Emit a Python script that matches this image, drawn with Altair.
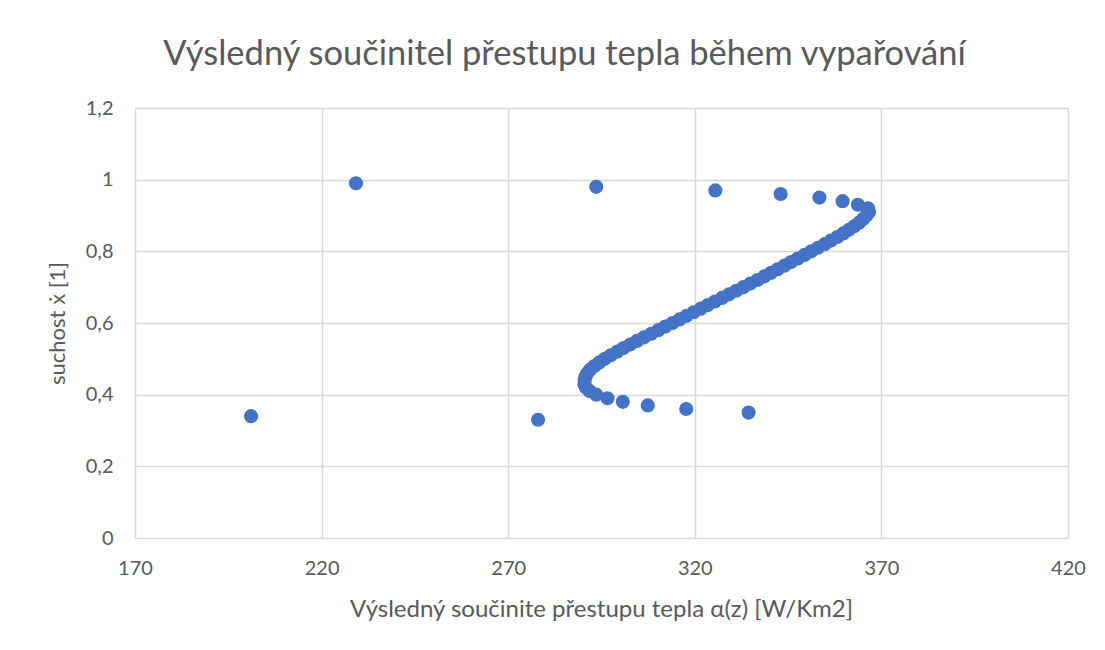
import altair as alt
import pandas as pd

# dryness (suchost x) values and the matching heat transfer coefficient readings
suchost = [0.33, 0.34, 0.35, 0.36, 0.37, 0.38, 0.39, 0.40, 0.41, 0.42,
           0.43, 0.44, 0.45, 0.46, 0.47, 0.48, 0.49, 0.50, 0.51, 0.52,
           0.53, 0.54, 0.55, 0.56, 0.57, 0.58, 0.59, 0.60, 0.61, 0.62,
           0.63, 0.64, 0.65, 0.66, 0.67, 0.68, 0.69, 0.70, 0.71, 0.72,
           0.73, 0.74, 0.75, 0.76, 0.77, 0.78, 0.79, 0.80, 0.81, 0.82,
           0.83, 0.84, 0.85, 0.86, 0.87, 0.88, 0.89, 0.90, 0.91, 0.92,
           0.93, 0.94, 0.95, 0.96, 0.97, 0.98, 0.99]
alpha = [278.0, 201.1, 334.4, 317.7, 307.4, 300.7, 296.6, 293.6, 291.8, 290.8,
         290.4, 290.5, 290.7, 291.2, 292.0, 293.1, 294.4, 295.9, 297.5, 299.2,
         300.9, 302.7, 304.5, 306.4, 308.3, 310.2, 312.1, 314.0, 315.9, 317.8,
         319.7, 321.6, 323.5, 325.4, 327.3, 329.2, 331.1, 333.0, 334.9, 336.8,
         338.6, 340.4, 342.2, 344.0, 345.8, 347.6, 349.4, 351.2, 353.0, 354.8,
         356.5, 358.2, 359.8, 361.3, 362.7, 364.0, 365.1, 366.0, 366.7, 366.4,
         363.7, 359.6, 353.4, 343.0, 325.5, 293.6, 229.2]

x_ticks = [170, 220, 270, 320, 370, 420]
y_ticks = [0, 0.2, 0.4, 0.6, 0.8, 1.0, 1.2]

df = pd.DataFrame({"alpha": alpha, "suchost": suchost})

TXT = "#595959"
GRID = "#D9D9D9"
FONT = "Lato"

chart = alt.Chart(df).mark_circle(size=200, color="#4472C4", opacity=1).encode(
    x=alt.X("alpha:Q",
            scale=alt.Scale(domain=[170, 420], nice=False, zero=False),
            axis=alt.Axis(values=x_ticks, title="Výsledný součinite přestupu tepla α(z) [W/Km2]",
                          grid=True, gridColor=GRID, gridWidth=1.5, domain=False, ticks=False,
                          labelFlush=False, labelOverlap=False,
                          labelPadding=20, labelFontSize=20, labelColor=TXT, labelFont=FONT,
                          titleFontSize=24, titleFont=FONT, titleColor=TXT, titleFontWeight="normal",
                          titleY=71, titleBaseline="middle", titleX=466)),
    y=alt.Y("suchost:Q",
            scale=alt.Scale(domain=[0, 1.2], nice=False),
            axis=alt.Axis(values=y_ticks, title="suchost ẋ [1]",
                          labelExpr="replace(format(datum.value, '~g'), '.', ',')",
                          grid=True, gridColor=GRID, gridWidth=1.5, domain=False, ticks=False,
                          labelFlush=False, labelOverlap=False,
                          labelPadding=22, labelFontSize=20, labelColor=TXT, labelFont=FONT,
                          titleFontSize=22, titleFont=FONT, titleColor=TXT, titleFontWeight="normal",
                          titleX=-78, titleY=215, titleBaseline="middle")),
).properties(
    width=933,
    height=430,
    title=alt.TitleParams("Výsledný součinitel přestupu tepla během vypařování",
                          font=FONT, fontSize=34.5, color=TXT, fontWeight="normal",
                          anchor="middle", dx=-37, offset=26),
    autosize=alt.AutoSizeParams(type="none"),
    padding={"left": 127, "top": 100, "right": 29, "bottom": 100},
).configure_view(stroke=None).configure(background="white")

chart.save("out.html", embed_options={"renderer": "svg", "actions": False})
